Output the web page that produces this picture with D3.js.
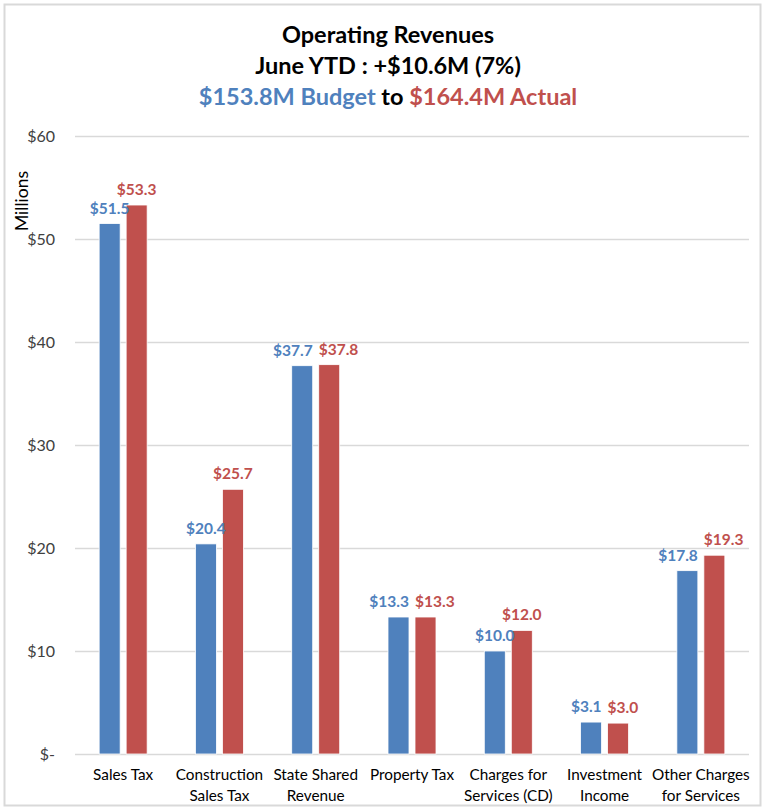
<!DOCTYPE html>
<html>
<head>
<meta charset="utf-8">
<script src="https://cdn.jsdelivr.net/npm/d3@7"></script>
<style>
  html, body { margin: 0; padding: 0; background: #fff; }
  svg { display: block; font-family: Lato, "Open Sans", sans-serif; }
</style>
</head>
<body>
<svg id="chart" width="765" height="809"></svg>
<script>
// Operating revenues by source, June year-to-date (millions of dollars)
const categories = [
  ["Sales Tax"],
  ["Construction", "Sales Tax"],
  ["State Shared", "Revenue"],
  ["Property Tax"],
  ["Charges for", "Services (CD)"],
  ["Investment", "Income"],
  ["Other Charges", "for Services"]
];
const budget = [51.5, 20.4, 37.7, 13.3, 10.0, 3.1, 17.8];
const actual = [53.3, 25.7, 37.8, 13.3, 12.0, 3.0, 19.3];
const seriesNames = ["Budget", "Actual"];
const yTicks = [0, 10, 20, 30, 40, 50, 60];
const titleLines = ["Operating Revenues", "June YTD : +$10.6M (7%)"];
const subtitleParts = [
  { text: "$153.8M Budget", series: 0 },
  { text: " to ", series: null },
  { text: "$164.4M Actual", series: 1 }
];

const colors = ["#4F81BD", "#C0504D"];
const svg = d3.select("#chart");
const W = 765, H = 809;
const margin = { left: 75, right: 16, top: 136, bottom: 55 };

// outer chart frame
svg.append("rect")
  .attr("x", 4.5).attr("y", 4.5)
  .attr("width", W - 9).attr("height", H - 8)
  .attr("fill", "#fff").attr("stroke", "#d9d9d9").attr("stroke-width", 2);

const x0 = d3.scaleBand()
  .domain(d3.range(categories.length))
  .range([margin.left, W - margin.right])
  .paddingInner(0).paddingOuter(0);

const y = d3.scaleLinear().domain([0, 60]).range([H - margin.bottom, margin.top]);

const barW = 21, barGap = 6;
const x1 = d3.scaleOrdinal()
  .domain([0, 1])
  .range([-(barW + barGap / 2), barGap / 2]);
const barCenter = (i, s) => x0(i) + x0.bandwidth() / 2 + x1(s) + barW / 2;

// gridlines
const grid = svg.append("g")
  .attr("transform", `translate(${margin.left},0)`)
  .call(d3.axisLeft(y).tickValues(yTicks).tickSize(-(W - margin.right - margin.left)).tickFormat(""));
grid.select(".domain").remove();
grid.selectAll("line").attr("stroke", "#d9d9d9").attr("stroke-width", 1.5);

// y tick labels
const yAxis = svg.append("g")
  .attr("transform", `translate(${margin.left - 20},0)`)
  .call(d3.axisLeft(y).tickValues(yTicks).tickSize(0).tickPadding(0)
    .tickFormat(d => d === 0 ? "$-" : "$" + d));
yAxis.select(".domain").remove();
yAxis.selectAll("text")
  .attr("font-family", "Lato, sans-serif")
  .attr("font-size", 16).attr("fill", "#404040");

// y axis title
svg.append("text")
  .attr("transform", "translate(28,201) rotate(-90)")
  .attr("text-anchor", "middle")
  .attr("font-size", 17.5).attr("fill", "#000")
  .text("Millions");

// bars with a thin white edge
const series = [budget, actual];
series.forEach((vals, s) => {
  svg.append("g").selectAll("rect").data(vals).join("rect")
    .attr("x", (d, i) => barCenter(i, s) - barW / 2)
    .attr("y", d => y(d))
    .attr("width", barW)
    .attr("height", d => y(0) - y(d))
    .attr("fill", colors[s])
    .attr("stroke", "#fff").attr("stroke-width", 0.8);
});

// value labels, pushed apart horizontally when a pair sits at nearly the same height
const labelG = svg.append("g");
categories.forEach((c, i) => {
  const nodes = series.map((vals, s) => labelG.append("text")
    .attr("x", barCenter(i, s))
    .attr("y", y(vals[i]) - 10)
    .attr("text-anchor", "middle")
    .attr("font-size", 15.5).attr("font-weight", 700)
    .attr("fill", colors[s])
    .text("$" + vals[i].toFixed(1)));
  const dy = Math.abs(y(budget[i]) - y(actual[i]));
  if (dy < 16) {
    const wb = nodes[0].node().getComputedTextLength();
    const wa = nodes[1].node().getComputedTextLength();
    const need = (wb + wa) / 2 + 6;
    const have = barCenter(i, 1) - barCenter(i, 0);
    if (need > have) {
      const push = (need - have) / 2;
      nodes[0].attr("x", barCenter(i, 0) - push);
      nodes[1].attr("x", barCenter(i, 1) + push);
    }
  }
});

// category labels
const xl = svg.append("g");
categories.forEach((lines, i) => {
  const cxi = x0(i) + x0.bandwidth() / 2;
  const t = xl.append("text")
    .attr("x", cxi)
    .attr("y", 780)
    .attr("text-anchor", "middle")
    .attr("font-size", 15.3).attr("fill", "#000");
  lines.forEach((ln, k) => {
    t.append("tspan")
      .attr("x", cxi)
      .attr("dy", k === 0 ? 0 : 20.5)
      .text(ln);
  });
});

// titles
const cx = 388;
titleLines.forEach((ln, k) => {
  svg.append("text")
    .attr("x", cx).attr("y", 43 + k * 31)
    .attr("text-anchor", "middle")
    .attr("font-size", 23.5).attr("font-weight", 700).attr("fill", "#000")
    .text(ln);
});
const sub = svg.append("text")
  .attr("x", cx).attr("y", 105)
  .attr("text-anchor", "middle")
  .attr("font-size", 23.5).attr("font-weight", 700);
subtitleParts.forEach(p => {
  sub.append("tspan")
    .attr("fill", p.series === null ? "#000" : colors[p.series])
    .text(p.text);
});
</script>
</body>
</html>
